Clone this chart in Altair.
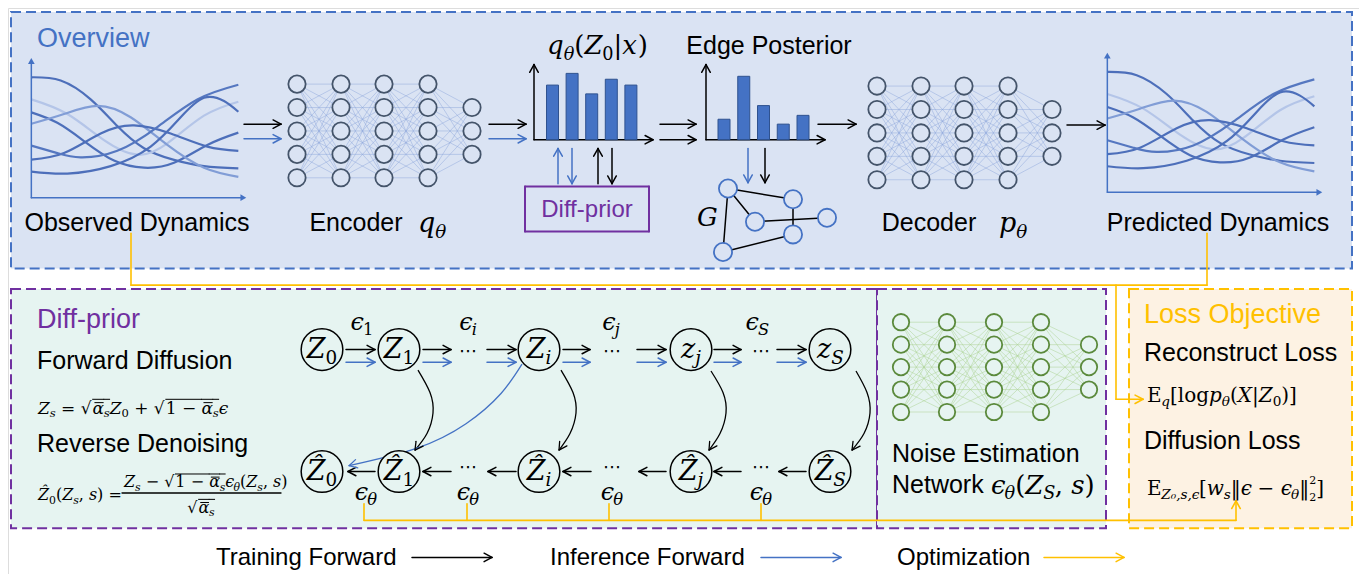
import math
import altair as alt
import pandas as pd

BLUE = "#4472c4"
ORANGE = "#ffc000"
PURPLE = "#7030a0"
BLACK = "#000000"
NAVY = "#44546a"
GREEN = "#5b8a3c"

# ---------------- values ----------------
# dynamics curves: (X, Y) samples read on a 3x zoom of the small line plots
dyn_c1 = [(22, 72), (110, 82), (200, 140), (280, 222), (360, 290), (450, 326), (540, 345), (643, 352)]
dyn_c2 = [(22, 140), (130, 185), (240, 265), (340, 310), (430, 275), (540, 190), (643, 147)]
dyn_c3 = [(22, 180), (100, 212), (180, 268), (270, 328), (360, 350), (450, 335), (550, 280), (643, 242)]
dyn_c4 = [(22, 215), (120, 185), (220, 160), (320, 195), (430, 280), (540, 350), (643, 378)]
dyn_c5 = [(22, 325), (120, 305), (230, 245), (330, 220), (440, 245), (550, 285), (643, 298)]
dyn_c6 = [(22, 282), (100, 305), (170, 318), (280, 298), (400, 225), (520, 140), (643, 95)]
dyn_c7 = [(22, 362), (130, 368), (260, 345), (380, 285), (470, 195), (540, 135), (600, 145), (643, 178)]
dyn_curves = [dyn_c1, dyn_c2, dyn_c3, dyn_c4, dyn_c5, dyn_c6, dyn_c7]
dyn_colors = ["#4d6fba", "#b4c5e8", "#4d6fba", "#819dd6", "#4d6fba", "#5577c0", "#4d6fba"]

# bar heights (px above the baseline)
q_bars = [56, 68, 47, 62, 56]
edge_bars = [21, 65, 35, 16, 25]

# neural networks: column positions and layer sizes
layer_sizes = [5, 5, 5, 5, 3]
enc_cols = [293, 337, 380, 424, 468]
enc_rows = [76, 100, 124, 148, 172]
dec_cols = [873, 917, 960, 1004, 1048]
dec_rows = [78, 102, 126, 150, 174]
noise_cols = [897, 943, 990, 1037, 1085]
noise_rows = [320, 343, 366, 389, 412]

# graph G
g_nodes = [(724, 183), (789, 194), (751, 217), (823, 213), (789, 230), (719, 248)]
g_edges = [(0, 1), (0, 2), (0, 5), (2, 3), (1, 4), (4, 5)]

# diffusion chain
chain_x = [318, 395, 535, 687, 826]
chain_top_labels = [[("Z", "i"), ("0", "sn")], [("Z", "i"), ("1", "sn")], [("Z", "i"), ("i", "si")],
                    [("z", "i"), ("j", "si")], [("z", "i"), ("S", "si")]]
chain_bot_labels = [[("Ẑ", "i"), ("0", "sn")], [("Ẑ", "i"), ("1", "sn")], [("Ẑ", "i"), ("i", "si")],
                    [("Ẑ", "i"), ("j", "si")], [("Ẑ", "i"), ("S", "si")]]
top_eps = [(358, "1", "sn"), (464, "i", "si"), (607, "j", "si"), (753, "S", "si")]
bot_eps_x = [362, 464, 608, 757]
dots_x = [464, 608, 757]

# ---------------- builders ----------------
rects, rules, conns, lines, points, tris = [], [], [], [], [], []
sans_left, sans_center, mrows, dots = [], [], [], []


def seg(x1, y1, x2, y2, c=BLACK, w=1.5, store=None):
    (rules if store is None else store).append(dict(x=x1, y=y1, x2=x2, y2=y2, c=c, w=w))


def head(x, y, ang, c=BLACK, w=1.5, L=9, spread=0.5):
    for s in (1, -1):
        a = ang + math.pi + s * spread
        seg(x, y, x + L * math.cos(a), y + L * math.sin(a), c, w)


def arrow(x1, y1, x2, y2, c=BLACK, w=1.5, L=9):
    seg(x1, y1, x2, y2, c, w)
    head(x2, y2, math.atan2(y2 - y1, x2 - x1), c, w, L)


WID = {'0': .636, '1': .636, '2': .636, '(': .39, ')': .39, '|': .337, '[': .39, ']': .39,
       '=': .838, '+': .838, '−': .838, ',': .318, ' ': .318, 'l': .32, 'o': .602, 'g': .635,
       'E': .715, '√': .7, '‖': .5, 'q': .64, 'x': .59, 'Z': .69, 's': .51, 'p': .64, 'X': .72,
       'w': .85, 'i': .32, 'j': .32, 'S': .65, 'z': .53, 'θ': .6, 'ϵ': .52, 'α': .66, 'Ẑ': .69,
       'G': .77, '₀': .42}


def layout(parts, size):
    out, cx = [], 0.0
    for p in parts:
        txt, role = p[0], p[1]
        flags = p[2] if len(p) > 2 else ""
        if role.startswith('s'):
            s, dy = size * 0.68, size * 0.22
        elif role.startswith('q'):
            s, dy = size * 0.55, size * 0.32
        elif role.startswith('p'):
            s, dy = size * 0.55, -size * 0.52
        else:
            s, dy = size, 0.0
        w = sum(WID.get(ch, 0.6) for ch in txt) * s
        out.append((cx, dy, txt, s, role.endswith('i'), w, flags))
        if '0' not in flags:
            cx += w
    return out, cx


def mtext(x, yc, parts, size, c=BLACK, center=False):
    out, tot = layout(parts, size)
    x0 = x - tot / 2 if center else x
    base = yc + 0.33 * size
    for (cx, dy, txt, s, it, w, flags) in out:
        lead = (len(txt) - len(txt.lstrip(" "))) * WID[' '] * s
        if txt.strip():
            mrows.append(dict(x=x0 + cx + lead, y=base + dy, t=txt.strip(), s=s, c=c, it=it))
        if 'b' in flags:
            seg(x0 + cx + 0.2 * w, base + dy - 0.66 * s, x0 + cx + 0.95 * w, base + dy - 0.66 * s, c, 1)
        if 'r' in flags:
            seg(x0 + cx, base - 0.86 * size, x0 + cx + w, base - 0.86 * size, c, 1)


# ---------------- boxes ----------------
rects.append(dict(x=7, x2=1348, y=2, y2=265, f="#dae3f3", s=BLUE))
rects.append(dict(x=7, x2=873, y=286, y2=531, f="#e6f4f1", s=PURPLE))
rects.append(dict(x=873, x2=1102, y=286, y2=531, f="#e6f4f1", s=PURPLE))
rects.append(dict(x=1125, x2=1348, y=286, y2=531, f="#fdf2e3", s=ORANGE))

# diff-prior solid box
for (a, b, c_, d) in [(521, 181, 645, 181), (645, 181, 645, 227), (645, 227, 521, 227), (521, 227, 521, 181)]:
    seg(a, b, c_, d, PURPLE, 2)

# ---------------- dynamics plots ----------------
for (ox, oy) in [(20, 45), (1096, 39.5)]:
    y0 = oy + 442 / 3
    xa = ox + 22 / 3
    seg(xa, y0, xa, oy + 24 / 3, BLUE, 1.5)
    seg(xa, y0, ox + 655 / 3, y0, BLUE, 1.5)
    tris.append(dict(x=xa, y=oy + 22 / 3, sh="triangle-up"))
    tris.append(dict(x=ox + 658 / 3, y=y0, sh="triangle-right"))
    for ci, (cv, col) in enumerate(zip(dyn_curves, dyn_colors)):
        for k, (X, Yv) in enumerate(cv):
            lines.append(dict(id=f"d{ox}_{ci}", k=k, x=ox + X / 3, y=oy + Yv / 3, c=col, w=2.2))

# ---------------- networks ----------------
def network(cols, rows, stroke, line_col, fill, r_size):
    for li in range(len(cols) - 1):
        ra = rows if layer_sizes[li] == 5 else rows[1:4]
        rb = rows if layer_sizes[li + 1] == 5 else rows[1:4]
        for ya in ra:
            for yb in rb:
                seg(cols[li], ya, cols[li + 1], yb, line_col, 0.8, conns)
    for li, cx in enumerate(cols):
        rr = rows if layer_sizes[li] == 5 else rows[1:4]
        for yy in rr:
            points.append(dict(x=cx, y=yy, f=fill, s=stroke, sz=r_size, sw=1.8))


network(enc_cols, enc_rows, NAVY, "#8ea7dc", "#dae3f3", 300)
network(dec_cols, dec_rows, NAVY, "#8ea7dc", "#dae3f3", 300)
network(noise_cols, noise_rows, GREEN, "#a9d18e", "#e6f4f1", 270)

# ---------------- bar charts ----------------
bars = []
for (ax0, vals, first, step) in [(530, q_bars, 18.5, 19.6), (702, edge_bars, 18, 19.75)]:
    for i, v in enumerate(vals):
        cx = ax0 + first + i * step
        bars.append(dict(x=cx - 6, x2=cx + 6, y=133 - v, y2=133))
    arrow(ax0, 133, ax0, 56)
    arrow(ax0, 133, ax0 + 119, 133)

# ---------------- top arrows ----------------
arrow(240, 117, 277, 117)
arrow(240, 132, 277, 132, BLUE)
arrow(485, 117, 522, 117)
arrow(485, 132, 522, 132, BLUE)
arrow(656, 117, 692, 117)
arrow(656, 133, 692, 133)
arrow(814, 117, 852, 117)
arrow(1063, 118, 1101, 118)
arrow(554, 178, 554, 142, BLUE)
arrow(568, 142, 568, 178, BLUE)
arrow(594, 178, 594, 142)
arrow(608, 142, 608, 178)
arrow(744, 142, 744, 177, BLUE)
arrow(761, 142, 761, 177)

# graph G
for (a, b) in g_edges:
    seg(g_nodes[a][0], g_nodes[a][1], g_nodes[b][0], g_nodes[b][1], BLACK, 1.5)
for (gx, gy) in g_nodes:
    points.append(dict(x=gx, y=gy, f="#dae3f3", s=BLUE, sz=330, sw=1.8))

# ---------------- diffusion chain ----------------
for cx in chain_x:
    points.append(dict(x=cx, y=348, f="#e6f4f1", s=BLACK, sz=1735, sw=1.5))
    points.append(dict(x=cx, y=473, f="#e6f4f1", s=BLACK, sz=1735, sw=1.5))
for (a, b) in [(342, 371), (419, 447), (483, 512), (559, 586), (633, 662), (710, 737), (773, 802)]:
    arrow(a, 348, b, 348)
    arrow(a, 361, b, 361, BLUE)
for (a, b) in [(371, 344), (447, 419), (512, 484), (587, 559), (662, 635), (737, 710), (802, 775)]:
    arrow(a, 473, b, 473)

curves = {
    "z1": ([(414, 369), (426, 392), (429, 413), (423, 434), (411, 451)], BLACK),
    "zi": ([(557, 369), (569, 392), (572, 413), (566, 434), (555, 451)], BLACK),
    "zj": ([(707, 370), (719, 392), (722, 413), (716, 434), (705, 451)], BLACK),
    "zs": ([(852, 370), (863, 392), (866, 413), (860, 434), (848, 451)], BLACK),
    "bl": ([(518, 363), (497, 393), (462, 424), (413, 449), (345, 467)], BLUE),
}
for cid, (pts, col) in curves.items():
    for k, (px, py) in enumerate(pts):
        lines.append(dict(id=cid, k=k, x=px, y=py, c=col, w=1.3))
    (xa, ya), (xb, yb) = pts[-2], pts[-1]
    head(xb, yb, math.atan2(yb - ya, xb - xa), col, 1.3)

# ---------------- optimisation (orange) paths ----------------
seg(127, 229, 127, 282, ORANGE, 1.6)
seg(1203, 229, 1203, 282, ORANGE, 1.6)
seg(127, 282, 1203, 282, ORANGE, 1.6)
seg(1112, 282, 1112, 399, ORANGE, 1.6)
arrow(1112, 399, 1139, 399, ORANGE, 1.6)
for tx in [360, 463, 605, 757]:
    seg(tx, 506, tx, 523, ORANGE, 1.6)
seg(360, 523, 1232, 523, ORANGE, 1.6)
arrow(1232, 523, 1232, 503, ORANGE, 1.6)

# legend arrows
arrow(408, 561, 488, 561)
arrow(757, 561, 837, 561, BLUE)
arrow(1040, 561, 1120, 561, ORANGE)

# fraction bar
seg(118, 495, 277, 495, BLACK, 1.3)

# ---------------- texts ----------------
for (t, x, y, s, c) in [("Overview", 33, 30, 27, BLUE), ("Diff-prior", 33, 318, 27, PURPLE),
                        ("Forward Diffusion", 33, 360, 25, BLACK), ("Reverse Denoising", 33, 445, 25, BLACK),
                        ("Noise Estimation", 888, 455, 25, BLACK), ("Network", 888, 487, 25, BLACK),
                        ("Loss Objective", 1140, 313, 27, ORANGE), ("Reconstruct Loss", 1140, 352, 25, BLACK),
                        ("Diffusion Loss", 1140, 442, 25, BLACK), ("Training Forward", 212, 562, 24, BLACK),
                        ("Inference Forward", 546, 562, 24, BLACK), ("Optimization", 893, 562, 24, BLACK)]:
    sans_left.append(dict(t=t, x=x, y=y, s=s, c=c))
for (t, x, y, s, c) in [("Observed Dynamics", 133, 218, 25, BLACK), ("Encoder", 352, 218, 25, BLACK),
                        ("Edge Posterior", 765, 37, 25, BLACK), ("Decoder", 925, 218, 25, BLACK),
                        ("Predicted Dynamics", 1214, 218, 25, BLACK), ("Diff-prior", 583, 205, 24, PURPLE)]:
    sans_center.append(dict(t=t, x=x, y=y, s=s, c=c))

mtext(543, 37, [("q", "i"), ("θ", "si"), ("(", "n"), ("Z", "i"), ("0", "sn"), ("|", "n"), ("x", "i"), (")", "n")], 26)
mtext(414, 219, [("q", "i"), ("θ", "si")], 27)
mtext(995, 219, [("p", "i"), ("θ", "si")], 27)
mtext(693, 213, [("G", "i")], 26)
mtext(34, 408, [("Z", "i"), ("s", "si"), (" = ", "n"), ("√", "n"), ("α", "i", "br"), ("s", "si", "r"),
                ("Z", "i"), ("0", "sn"), (" + ", "n"), ("√", "n"), ("1 − ", "n", "r"), ("α", "i", "br"),
                ("s", "si", "r"), ("ϵ", "i")], 17)
mtext(34, 497, [("Ẑ", "i"), ("0", "sn"), ("(", "n"), ("Z", "i"), ("s", "si"), (", ", "n"), ("s", "i"),
                (")", "n"), (" = ", "n")], 16)
mtext(120, 484, [("Z", "i"), ("s", "si"), (" − ", "n"), ("√", "n"), ("1 − ", "n", "r"), ("α", "i", "br"),
                 ("s", "si", "r"), ("ϵ", "i"), ("θ", "si"), ("(", "n"), ("Z", "i"), ("s", "si"), (", ", "n"),
                 ("s", "i"), (")", "n")], 16)
mtext(197, 510, [("√", "n"), ("α", "i", "br"), ("s", "si", "r")], 16, center=True)
for cx, lab in zip(chain_x, chain_top_labels):
    mtext(cx, 348, lab, 27, center=True)
for cx, lab in zip(chain_x, chain_bot_labels):
    mtext(cx, 473, lab, 27, center=True)
for (ex, sub, role) in top_eps:
    mtext(ex, 320, [("ϵ", "i"), (sub, role)], 24, center=True)
for ex in bot_eps_x:
    mtext(ex, 494, [("ϵ", "i"), ("θ", "si")], 24, center=True)
for dx in dots_x:
    dots.append(dict(t="⋯", x=dx, y=350, s=18))
    dots.append(dict(t="⋯", x=dx, y=469, s=18))
mtext(987, 487, [("ϵ", "i"), ("θ", "si"), ("(", "n"), ("Z", "i"), ("S", "si"), (", ", "n"), ("s", "i"),
                 (")", "n")], 26)
mtext(1143, 395, [("E", "n"), ("q", "si"), ("[log", "n"), ("p", "i"), ("θ", "si"), ("(", "n"), ("X", "i"),
                  ("|", "n"), ("Z", "i"), ("0", "sn"), (")]", "n")], 20)
mtext(1143, 490, [("E", "n"), ("Z₀,s,ϵ", "si"), ("[", "n"), ("w", "i"), ("s", "si"), ("‖", "n"), ("ϵ", "i"),
                  (" − ", "n"), ("ϵ", "i"), ("θ", "si"), ("‖", "n"), ("2", "pn", "0"), ("2", "qn"),
                  ("]", "n")], 20)

# ---------------- chart ----------------
XS = alt.Scale(domain=[4, 1355])
YS = alt.Scale(domain=[-2, 578], reverse=True)


def xy(xf="x", yf="y"):
    return dict(x=alt.X(f"{xf}:Q", scale=XS, axis=None), y=alt.Y(f"{yf}:Q", scale=YS, axis=None))


df = pd.DataFrame
layers = []
layers.append(alt.Chart(df(rects)).mark_rect(strokeDash=[10, 5], strokeWidth=2).encode(
    **xy(), x2="x2:Q", y2="y2:Q", fill=alt.Fill("f:N", scale=None), stroke=alt.Stroke("s:N", scale=None)))
layers.append(alt.Chart(df(conns)).mark_rule(opacity=0.6).encode(
    **xy(), x2="x2:Q", y2="y2:Q", color=alt.Color("c:N", scale=None), size=alt.Size("w:Q", scale=None)))
layers.append(alt.Chart(df(lines)).mark_line(interpolate="natural").encode(
    **xy(), detail="id:N", order=alt.Order("k:Q"), color=alt.Color("c:N", scale=None),
    size=alt.Size("w:Q", scale=None)))
layers.append(alt.Chart(df(rules)).mark_rule(strokeCap="round").encode(
    **xy(), x2="x2:Q", y2="y2:Q", color=alt.Color("c:N", scale=None), size=alt.Size("w:Q", scale=None)))
layers.append(alt.Chart(df(tris)).mark_point(filled=True, size=45, opacity=1, color=BLUE).encode(
    **xy(), shape=alt.Shape("sh:N", scale=None)))
layers.append(alt.Chart(df(points)).mark_point(shape="circle", filled=True, opacity=1).encode(
    **xy(), fill=alt.Fill("f:N", scale=None), stroke=alt.Stroke("s:N", scale=None),
    size=alt.Size("sz:Q", scale=None), strokeWidth=alt.StrokeWidth("sw:Q", scale=None)))
layers.append(alt.Chart(df(bars)).mark_rect(fill=BLUE, stroke="#2f528f", strokeWidth=1).encode(
    **xy(), x2="x2:Q", y2="y2:Q"))
layers.append(alt.Chart(df(sans_left)).mark_text(align="left", baseline="middle", font="Liberation Sans").encode(
    **xy(), text="t:N", size=alt.Size("s:Q", scale=None), color=alt.Color("c:N", scale=None)))
layers.append(alt.Chart(df(sans_center)).mark_text(align="center", baseline="middle", font="Liberation Sans").encode(
    **xy(), text="t:N", size=alt.Size("s:Q", scale=None), color=alt.Color("c:N", scale=None)))
mdf = df(mrows)
layers.append(alt.Chart(mdf[mdf.it]).mark_text(align="left", baseline="alphabetic", font="DejaVu Serif",
                                               fontStyle="italic").encode(
    **xy(), text="t:N", size=alt.Size("s:Q", scale=None), color=alt.Color("c:N", scale=None)))
layers.append(alt.Chart(mdf[~mdf.it]).mark_text(align="left", baseline="alphabetic", font="DejaVu Serif").encode(
    **xy(), text="t:N", size=alt.Size("s:Q", scale=None), color=alt.Color("c:N", scale=None)))
layers.append(alt.Chart(df(dots)).mark_text(align="center", baseline="middle", font="DejaVu Sans").encode(
    **xy(), text="t:N", size=alt.Size("s:Q", scale=None)))

chart = alt.layer(*layers).properties(
    width=1351, height=566, padding=0, autosize=alt.AutoSizeParams(type="none")
).configure_view(stroke=None).configure(background="white")

chart.save("out.html", embed_options={"renderer": "svg", "actions": False})
